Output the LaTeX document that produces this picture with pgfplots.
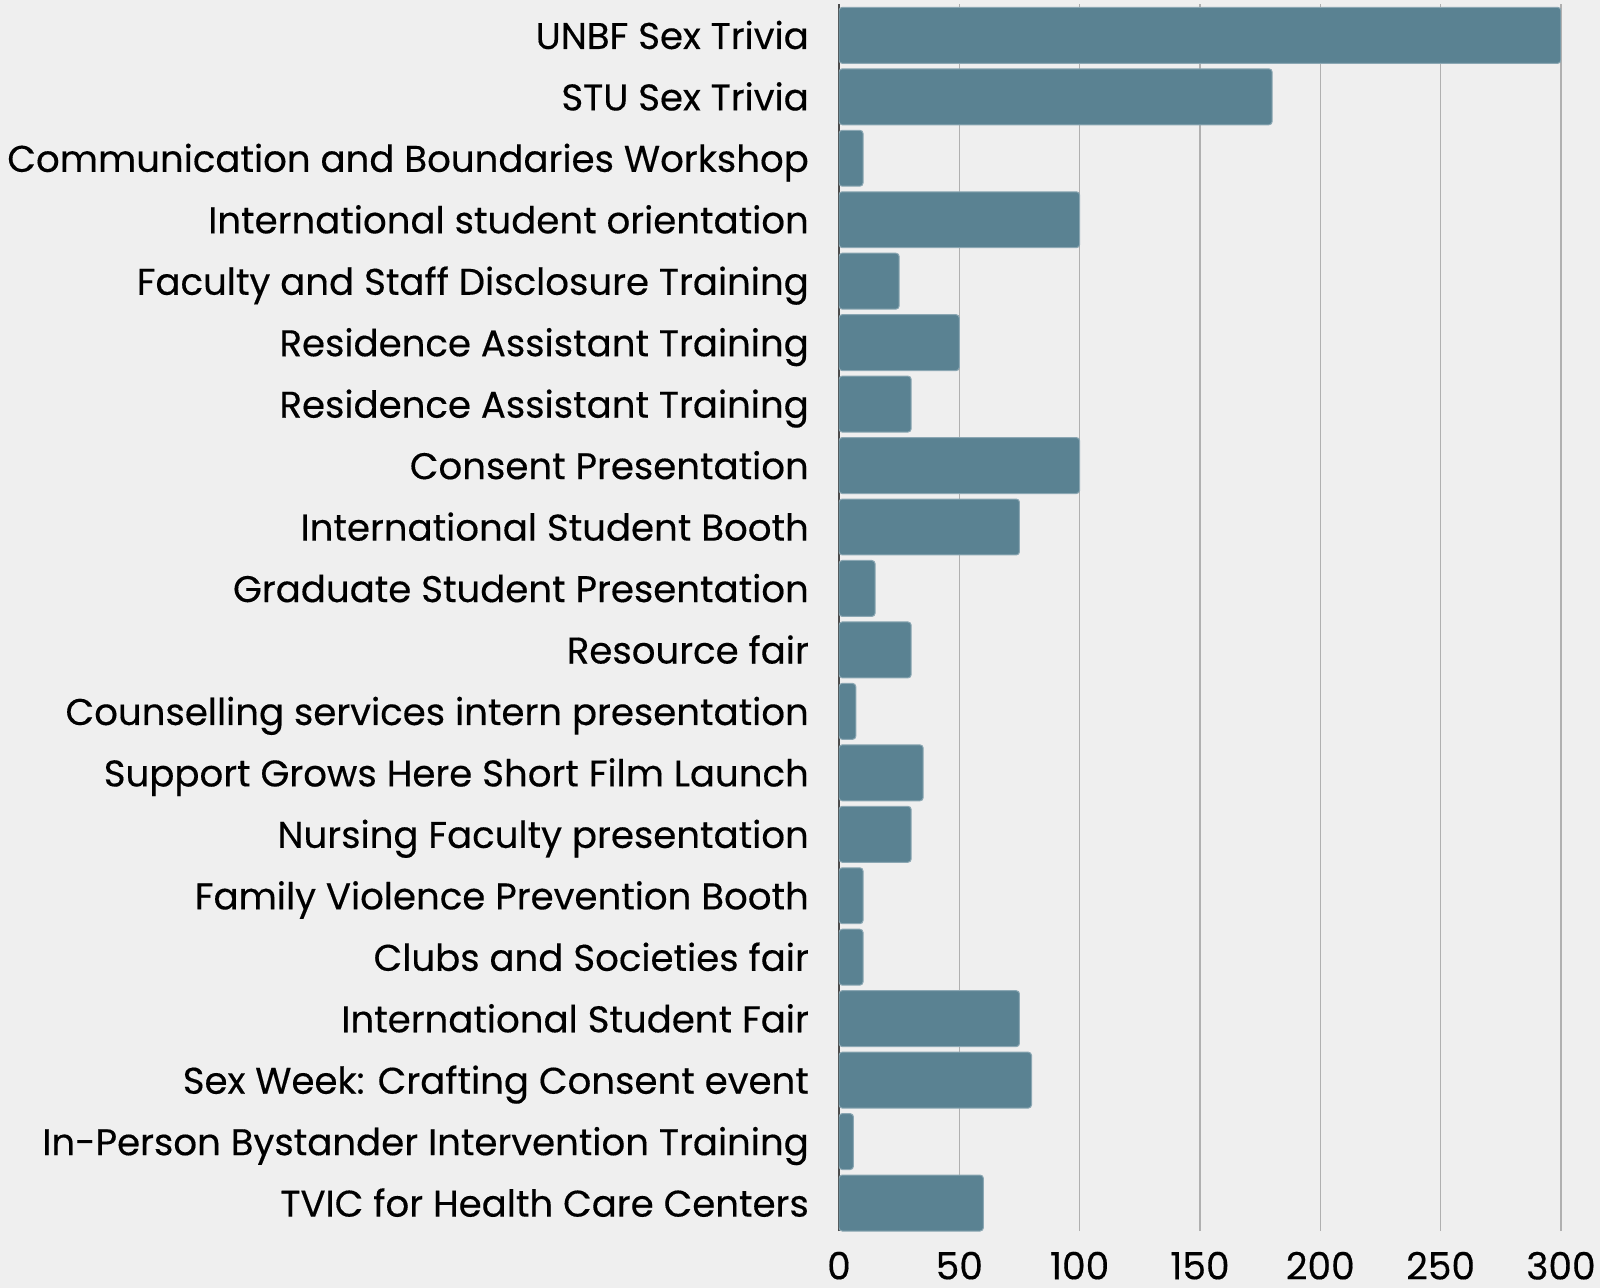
\documentclass[border=0pt]{standalone}
\usepackage{pgfplots}
\pgfplotsset{compat=1.18}
\usepackage{fontspec}
\setmainfont{Poppins}[FakeBold=0.35]
\definecolor{bg}{HTML}{EFEFEF}
\definecolor{barc}{HTML}{5A8292}
\definecolor{gridc}{HTML}{B0B0B0}
\begin{document}
\begin{tikzpicture}
\path[use as bounding box, fill=bg] (-209.75pt,-14.25pt) rectangle (190.25pt,307.75pt);
\begin{axis}[
  at={(0pt,0pt)}, anchor=south west,
  scale only axis,
  width=180.5pt, height=306.75pt,
  xbar, bar width=0.91,
  xmin=0, xmax=300,
  ymin=-0.455, ymax=19.51,
  axis line style={draw=none},
  xtick={0,50,...,300},
  xmajorgrids, grid style={gridc, line width=0.4pt},
  major tick length=0pt,
  ytick={0,...,19},
  yticklabels={
    TVIC for Health Care Centers,
    In-Person Bystander Intervention Training,
    Sex Week: Crafting Consent event,
    International Student Fair,
    Clubs and Societies fair,
    Family Violence Prevention Booth,
    Nursing Faculty presentation,
    Support Grows Here Short Film Launch,
    Counselling services intern presentation,
    Resource fair,
    Graduate Student Presentation,
    International Student Booth,
    Consent Presentation,
    Residence Assistant Training,
    Residence Assistant Training,
    Faculty and Staff Disclosure Training,
    International student orientation,
    Communication and Boundaries Workshop,
    STU Sex Trivia,
    UNBF Sex Trivia},
  yticklabel style={font=\fontsize{9.28}{11}\selectfont, anchor=base east, xshift=-4pt, yshift=-3.4pt},
  xticklabel style={font=\fontsize{9.4}{11}\selectfont, inner sep=1pt, yshift=-4pt},
  /pgf/number format/assume math mode=true,
  extra x ticks={0},
  extra x tick labels={},
  extra x tick style={grid style={black!70, line width=0.5pt}},
]
\addplot[fill=barc, draw=barc!70!white, line width=0.25pt, rounded corners=0.8pt] coordinates {
  (60,0) (6,1) (80,2) (75,3) (10,4) (10,5) (30,6) (35,7) (7,8) (30,9)
  (15,10) (75,11) (100,12) (30,13) (50,14) (25,15) (100,16) (10,17) (180,18) (300,19)
};
\end{axis}
\end{tikzpicture}
\end{document}
